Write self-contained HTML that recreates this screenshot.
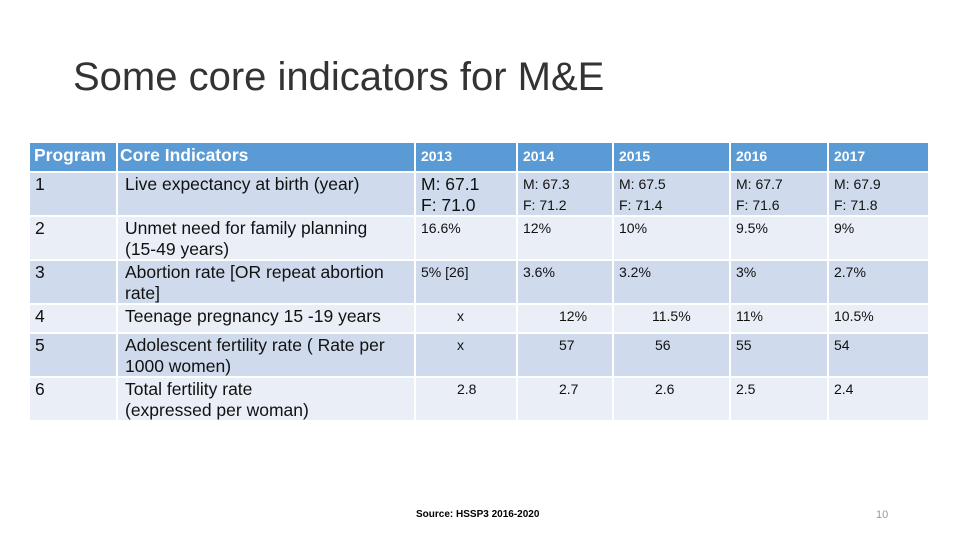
<!DOCTYPE html>
<html><head><meta charset="utf-8">
<style>
html,body{margin:0;padding:0;background:#fff;}
body{width:960px;height:540px;position:relative;overflow:hidden;font-family:"Liberation Sans",sans-serif;}
#title{position:absolute;left:73px;top:55px;font-size:40px;color:#333;font-weight:normal;white-space:nowrap;}
table{position:absolute;left:28px;top:141px;border-collapse:separate;border-spacing:2px;table-layout:fixed;}
td{padding:0 5px 0 5px;vertical-align:top;color:#111;font-size:14px;line-height:20.5px;overflow:hidden;}
tr.h td{background:#5b9bd5;color:#fff;font-weight:bold;height:28px;padding-top:0;line-height:26px;}
tr.d td{background:#cfdaec;}
tr.l td{background:#e9eef7;}
td.a{font-size:17.5px;line-height:20.5px;}
td.c{padding-left:7px;}
tr.l td, tr.d td{padding-top:1px;}
.i{padding-left:41px;}
#source{position:absolute;left:416px;top:509px;font-size:10px;font-weight:bold;color:#000;}
#page{position:absolute;left:876px;top:509px;font-size:11px;color:#999;}
</style></head>
<body>
<div id="title">Some core indicators for M&amp;E</div>
<table>
<colgroup><col style="width:86px"><col style="width:296px"><col style="width:100px"><col style="width:94px"><col style="width:115px"><col style="width:96px"><col style="width:99px"></colgroup>
<tr class="h">
<td class="a" style="padding-left:4px;line-height:24px">Program</td>
<td class="a" style="padding-left:2px;line-height:24px">Core Indicators</td>
<td>2013</td>
<td>2014</td>
<td>2015</td>
<td>2016</td>
<td>2017</td>
</tr>
<tr class="d" style="height:42px">
<td class="a">1</td>
<td class="a c">Live expectancy at birth (year)</td>
<td class="a">M: 67.1<br>F: 71.0</td>
<td>M: 67.3<br>F: 71.2</td>
<td>M: 67.5<br>F: 71.4</td>
<td>M: 67.7<br>F: 71.6</td>
<td>M: 67.9<br>F: 71.8</td>
</tr>
<tr class="l" style="height:42px">
<td class="a">2</td>
<td class="a c">Unmet need for family planning<br>(15-49 years)</td>
<td>16.6%</td>
<td>12%</td>
<td>10%</td>
<td>9.5%</td>
<td>9%</td>
</tr>
<tr class="d" style="height:41px">
<td class="a">3</td>
<td class="a c">Abortion rate [OR repeat abortion<br>rate]</td>
<td>5% [26]</td>
<td>3.6%</td>
<td>3.2%</td>
<td>3%</td>
<td>2.7%</td>
</tr>
<tr class="l" style="height:27px">
<td class="a">4</td>
<td class="a c">Teenage pregnancy 15 -19 years</td>
<td class="i">x</td>
<td class="i">12%</td>
<td class="i" style="padding-left:38px">11.5%</td>
<td>11%</td>
<td>10.5%</td>
</tr>
<tr class="d" style="height:41px">
<td class="a">5</td>
<td class="a c">Adolescent fertility rate ( Rate per<br>1000 women)</td>
<td class="i">x</td>
<td class="i">57</td>
<td class="i">56</td>
<td>55</td>
<td>54</td>
</tr>
<tr class="l" style="height:41px">
<td class="a">6</td>
<td class="a c">Total fertility rate<br>(expressed per woman)</td>
<td class="i">2.8</td>
<td class="i">2.7</td>
<td class="i">2.6</td>
<td>2.5</td>
<td>2.4</td>
</tr>
</table>
<div id="source">Source: HSSP3 2016-2020</div>
<div id="page">10</div>
</body></html>
